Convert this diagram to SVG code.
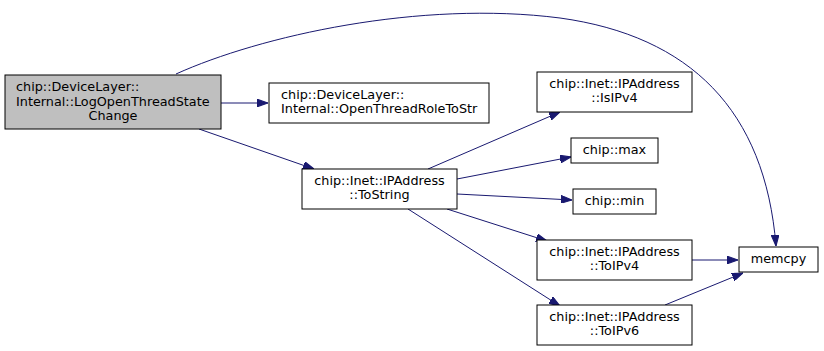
<svg xmlns="http://www.w3.org/2000/svg" width="824" height="351" viewBox="0 0 824 351">
  <style>
    .node rect { fill: #ffffff; stroke: #000000; stroke-width: 1; }
    .node.root rect { fill: #bfbfbf; stroke: #000000; }
    .node text { font-family: "DejaVu Sans", "Liberation Sans", sans-serif; font-size: 12.8px; fill: #000000; }
    .mid { text-anchor: middle; }
    .start { text-anchor: start; }
    .edge { fill: none; stroke: #191970; stroke-width: 1; }
  </style>
  <defs>
    <marker id="arrow" viewBox="0 0 10 7" refX="10" refY="3.5" markerWidth="11" markerHeight="8" markerUnits="userSpaceOnUse" orient="auto">
      <polygon points="0,0 10,3.5 0,7" fill="#191970" stroke="#191970"/>
    </marker>
  </defs>

  <rect width="824" height="351" fill="#ffffff"/>

  <!-- call edges -->
  <g id="edges">
    <path class="edge" marker-end="url(#arrow)" d="M176,74 C260,36 420,0 560,18 C690,36 765,110 776,246"/>
    <path class="edge" marker-end="url(#arrow)" d="M221,103 L268,103"/>
    <path class="edge" marker-end="url(#arrow)" d="M199,129 L314,169"/>
    <path class="edge" marker-end="url(#arrow)" d="M428,169 L560,112"/>
    <path class="edge" marker-end="url(#arrow)" d="M457,179 L571,157"/>
    <path class="edge" marker-end="url(#arrow)" d="M457,194 L572,200"/>
    <path class="edge" marker-end="url(#arrow)" d="M447,209 L547,241"/>
    <path class="edge" marker-end="url(#arrow)" d="M408,209 L560,306"/>
    <path class="edge" marker-end="url(#arrow)" d="M692,260 L738,260"/>
    <path class="edge" marker-end="url(#arrow)" d="M665,305 L743,273"/>
  </g>

  <g id="LogOpenThreadStateChange" class="node root">
    <rect x="5" y="75" width="216" height="54"/>
    <text class="start" x="16" y="91">chip::DeviceLayer::</text>
    <text class="start" x="16" y="106">Internal::LogOpenThreadState</text>
    <text class="mid" x="113" y="120">Change</text>
  </g>

  <g id="OpenThreadRoleToStr" class="node">
    <rect x="269" y="83" width="220" height="40"/>
    <text class="start" x="281" y="99">chip::DeviceLayer::</text>
    <text class="start" x="281" y="113">Internal::OpenThreadRoleToStr</text>
  </g>

  <g id="ToString" class="node">
    <rect x="302" y="169" width="155" height="40"/>
    <text class="mid" x="379.5" y="185">chip::Inet::IPAddress</text>
    <text class="mid" x="379.5" y="199">::ToString</text>
  </g>

  <g id="IsIPv4" class="node">
    <rect x="537" y="72" width="155" height="40"/>
    <text class="mid" x="614.5" y="88">chip::Inet::IPAddress</text>
    <text class="mid" x="614.5" y="102">::IsIPv4</text>
  </g>

  <g id="max" class="node">
    <rect x="571" y="138" width="87" height="25"/>
    <text class="mid" x="614.5" y="154">chip::max</text>
  </g>

  <g id="min" class="node">
    <rect x="573" y="189" width="83" height="25"/>
    <text class="mid" x="614.5" y="205">chip::min</text>
  </g>

  <g id="ToIPv4" class="node">
    <rect x="537" y="240" width="155" height="40"/>
    <text class="mid" x="614.5" y="256">chip::Inet::IPAddress</text>
    <text class="mid" x="614.5" y="270">::ToIPv4</text>
  </g>

  <g id="ToIPv6" class="node">
    <rect x="537" y="305" width="155" height="40"/>
    <text class="mid" x="614.5" y="321">chip::Inet::IPAddress</text>
    <text class="mid" x="614.5" y="335">::ToIPv6</text>
  </g>

  <g id="memcpy" class="node">
    <rect x="739" y="247" width="79" height="25"/>
    <text class="mid" x="778.5" y="263">memcpy</text>
  </g>
</svg>
